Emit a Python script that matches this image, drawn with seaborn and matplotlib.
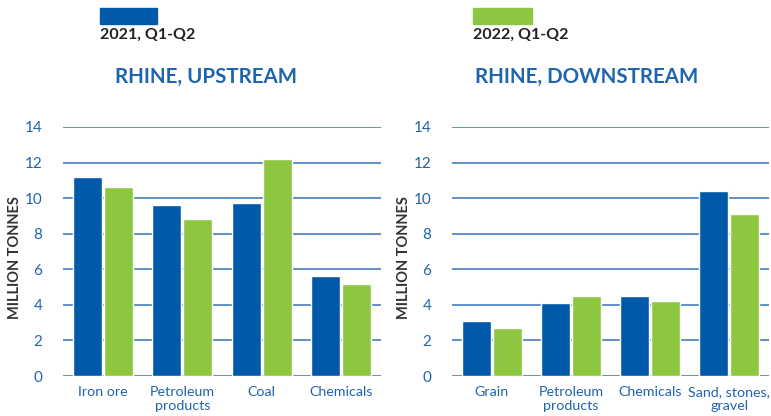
import matplotlib
matplotlib.use("Agg")
import matplotlib.pyplot as plt
import seaborn as sns
import pandas as pd
from matplotlib.patches import Rectangle

series = ["2021, Q1-Q2", "2022, Q1-Q2"]
up_cats = ["Iron ore", "Petroleum\nproducts", "Coal", "Chemicals"]
up_2021 = [11.2, 9.6, 9.7, 5.6]
up_2022 = [10.6, 8.8, 12.2, 5.2]
down_cats = ["Grain", "Petroleum\nproducts", "Chemicals", "Sand, stones,\ngravel"]
down_2021 = [3.1, 4.1, 4.5, 10.4]
down_2022 = [2.7, 4.5, 4.2, 9.1]
yticks = [0, 2, 4, 6, 8, 10, 12, 14]

BLUE = "#005aa9"
GREEN = "#8dc63f"
TXT = "#1f64b0"
GRID = "#3473bb"
DARK = "#333333"

sns.set_theme(style="white")
plt.rcParams["font.family"] = ["Lato", "DejaVu Sans"]

fig = plt.figure(figsize=(7.71, 4.16), dpi=100)
W, H = 771, 416

def mk_axes(x0, x1, ytop, ybot):
    return fig.add_axes([x0 / W, 1 - ybot / H, (x1 - x0) / W, (ybot - ytop) / H])

axL = mk_axes(63, 381, 127, 376)
axR = mk_axes(452, 769, 127, 376)

def draw(ax, cats, a, b, title_x, title):
    df = pd.DataFrame({
        "cat": cats * 2,
        "val": a + b,
        "series": [series[0]] * len(cats) + [series[1]] * len(cats),
    })
    sns.barplot(data=df, x="cat", y="val", hue="series", order=cats,
                hue_order=series, palette=[BLUE, GREEN], width=0.78, gap=0.06,
                saturation=1, ax=ax, legend=False, zorder=3)
    ax.set_ylim(0, 14)
    ax.set_xlim(-0.5, len(cats) - 0.5)
    ax.set_yticks(yticks)
    ax.set_yticklabels([str(t) for t in yticks])
    for t in yticks:
        ax.axhline(t, color=GRID, lw=1.1, zorder=1)
    for s in ax.spines.values():
        s.set_visible(False)
    ax.tick_params(axis="both", length=0, colors=TXT)
    ax.tick_params(axis="y", pad=15, labelsize=11)
    ax.tick_params(axis="x", pad=7, labelsize=10.3)
    for lbl in ax.get_xticklabels():
        lbl.set_linespacing(1.2)
    ax.set_xlabel("")
    ax.set_ylabel("MILLION TONNES", color=DARK, fontsize=10.5, fontweight="bold",
                  va="center")
    ax.yaxis.set_label_coords(-0.151, 0.476)
    fig.text(title_x / W, 1 - 77 / H, title, color=TXT, fontsize=14.8,
             fontweight="bold", ha="center", va="center")

draw(axL, up_cats, up_2021, up_2022, 206, "RHINE, UPSTREAM")
draw(axR, down_cats, down_2021, down_2022, 587, "RHINE, DOWNSTREAM")

# legend
for x0, x1, col, lab in [(100, 157, BLUE, series[0]), (473, 532, GREEN, series[1])]:
    fig.patches.append(Rectangle((x0 / W, 1 - 24 / H), (x1 - x0) / W, 16 / H,
                                 transform=fig.transFigure, color=col, figure=fig))
    fig.text(x0 / W, 1 - 35 / H, lab, color="#222222", fontsize=11.5,
             fontweight="bold", ha="left", va="center")

fig.savefig("out.png", dpi=100)
